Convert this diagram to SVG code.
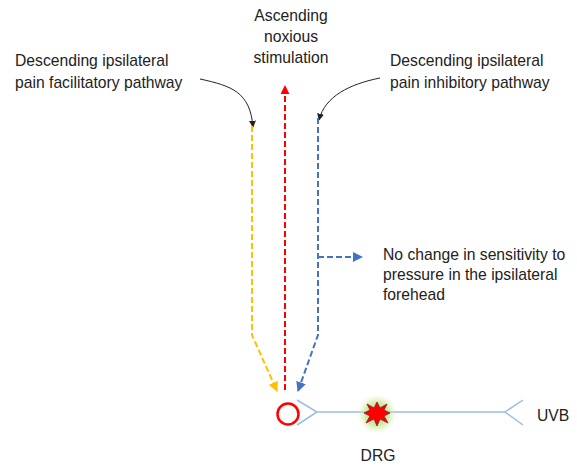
<svg xmlns="http://www.w3.org/2000/svg" width="577" height="467" viewBox="0 0 577 467">
<defs>
<style>
text{font-family:"Liberation Sans",Arial,sans-serif;font-size:15.7px;fill:#222}
.d{fill:none;stroke-width:2;stroke-dasharray:6 3}
.y{stroke:#FFC000}
.r{stroke:#FF0000}
.b{stroke:#4472C4}
.k{fill:none;stroke:#222;stroke-width:1}
.ax{fill:none;stroke:#9DBCE3;stroke-width:1.5}
</style>
<marker id="ay" viewBox="0 0 10 10" refX="9" refY="5" markerWidth="5" markerHeight="5" orient="auto"><path d="M0,0L10,5L0,10z" fill="#FFC000"/></marker>
<marker id="ar" viewBox="0 0 10 10" refX="9" refY="5" markerWidth="4.5" markerHeight="4.5" orient="auto"><path d="M0,0L10,5L0,10z" fill="#FF0000"/></marker>
<marker id="ab" viewBox="0 0 10 10" refX="9" refY="5" markerWidth="5" markerHeight="5" orient="auto"><path d="M0,0L10,5L0,10z" fill="#4472C4"/></marker>
<marker id="ak" viewBox="0 0 10 10" refX="9" refY="5" markerWidth="7" markerHeight="7" orient="auto"><path d="M0,0L10,5L0,10z" fill="#222"/></marker>
<radialGradient id="glow"><stop offset="0" stop-color="#9BD04A" stop-opacity="0.9"/><stop offset="0.6" stop-color="#B9E07A" stop-opacity="0.6"/><stop offset="1" stop-color="#DFF0C0" stop-opacity="0"/></radialGradient>
</defs>
<g id="labels">
<text x="291" y="21" text-anchor="middle">Ascending</text>
<text x="291" y="42" text-anchor="middle">noxious</text>
<text x="291" y="63" text-anchor="middle">stimulation</text>
<text x="15" y="66">Descending ipsilateral</text>
<text x="15" y="88">pain facilitatory pathway</text>
<text x="390" y="66">Descending ipsilateral</text>
<text x="390" y="88">pain inhibitory pathway</text>
<text x="383" y="260">No change in sensitivity to</text>
<text x="383" y="280">pressure in the ipsilateral</text>
<text x="383" y="300">forehead</text>
</g>
<g id="connectors">
<path class="k" d="M200,79 C232,86 250,92 253,127" marker-end="url(#ak)"/>
<path class="k" d="M380,78 C350,84 325,96 319,120" marker-end="url(#ak)"/>
<path class="d y" d="M252,126 V335 L277,391" marker-end="url(#ay)"/>
<path class="d r" d="M285,390 V86" marker-end="url(#ar)"/>
<path class="d b" d="M318,118 V335 L298,391" marker-end="url(#ab)"/>
<path class="d b" d="M318,257 H362" marker-end="url(#ab)"/>
</g>
<g id="neuron">
<circle cx="288" cy="414" r="10.5" fill="none" stroke="#FF0000" stroke-width="2.5"/>
<path class="ax" d="M297,400 L317,412 L297,425 M317,412 H505 M523,400 L505,412 L523,425"/>
</g>
<g id="drg">
<circle cx="377" cy="414" r="20" fill="url(#glow)"/>
<path d="M377,402 L380,408 L387,404 L384,410 L390,413 L384,416 L388,423 L380,419 L377,426 L374,419 L366,423 L370,416 L364,413 L370,410 L367,404 L374,408Z" fill="#FF0000" stroke="#7A1F3D" stroke-width="0.8"/>
<text x="378" y="461" text-anchor="middle">DRG</text>
</g>
<g id="uvb">
<text x="537" y="421">UVB</text>
</g>
</svg>
